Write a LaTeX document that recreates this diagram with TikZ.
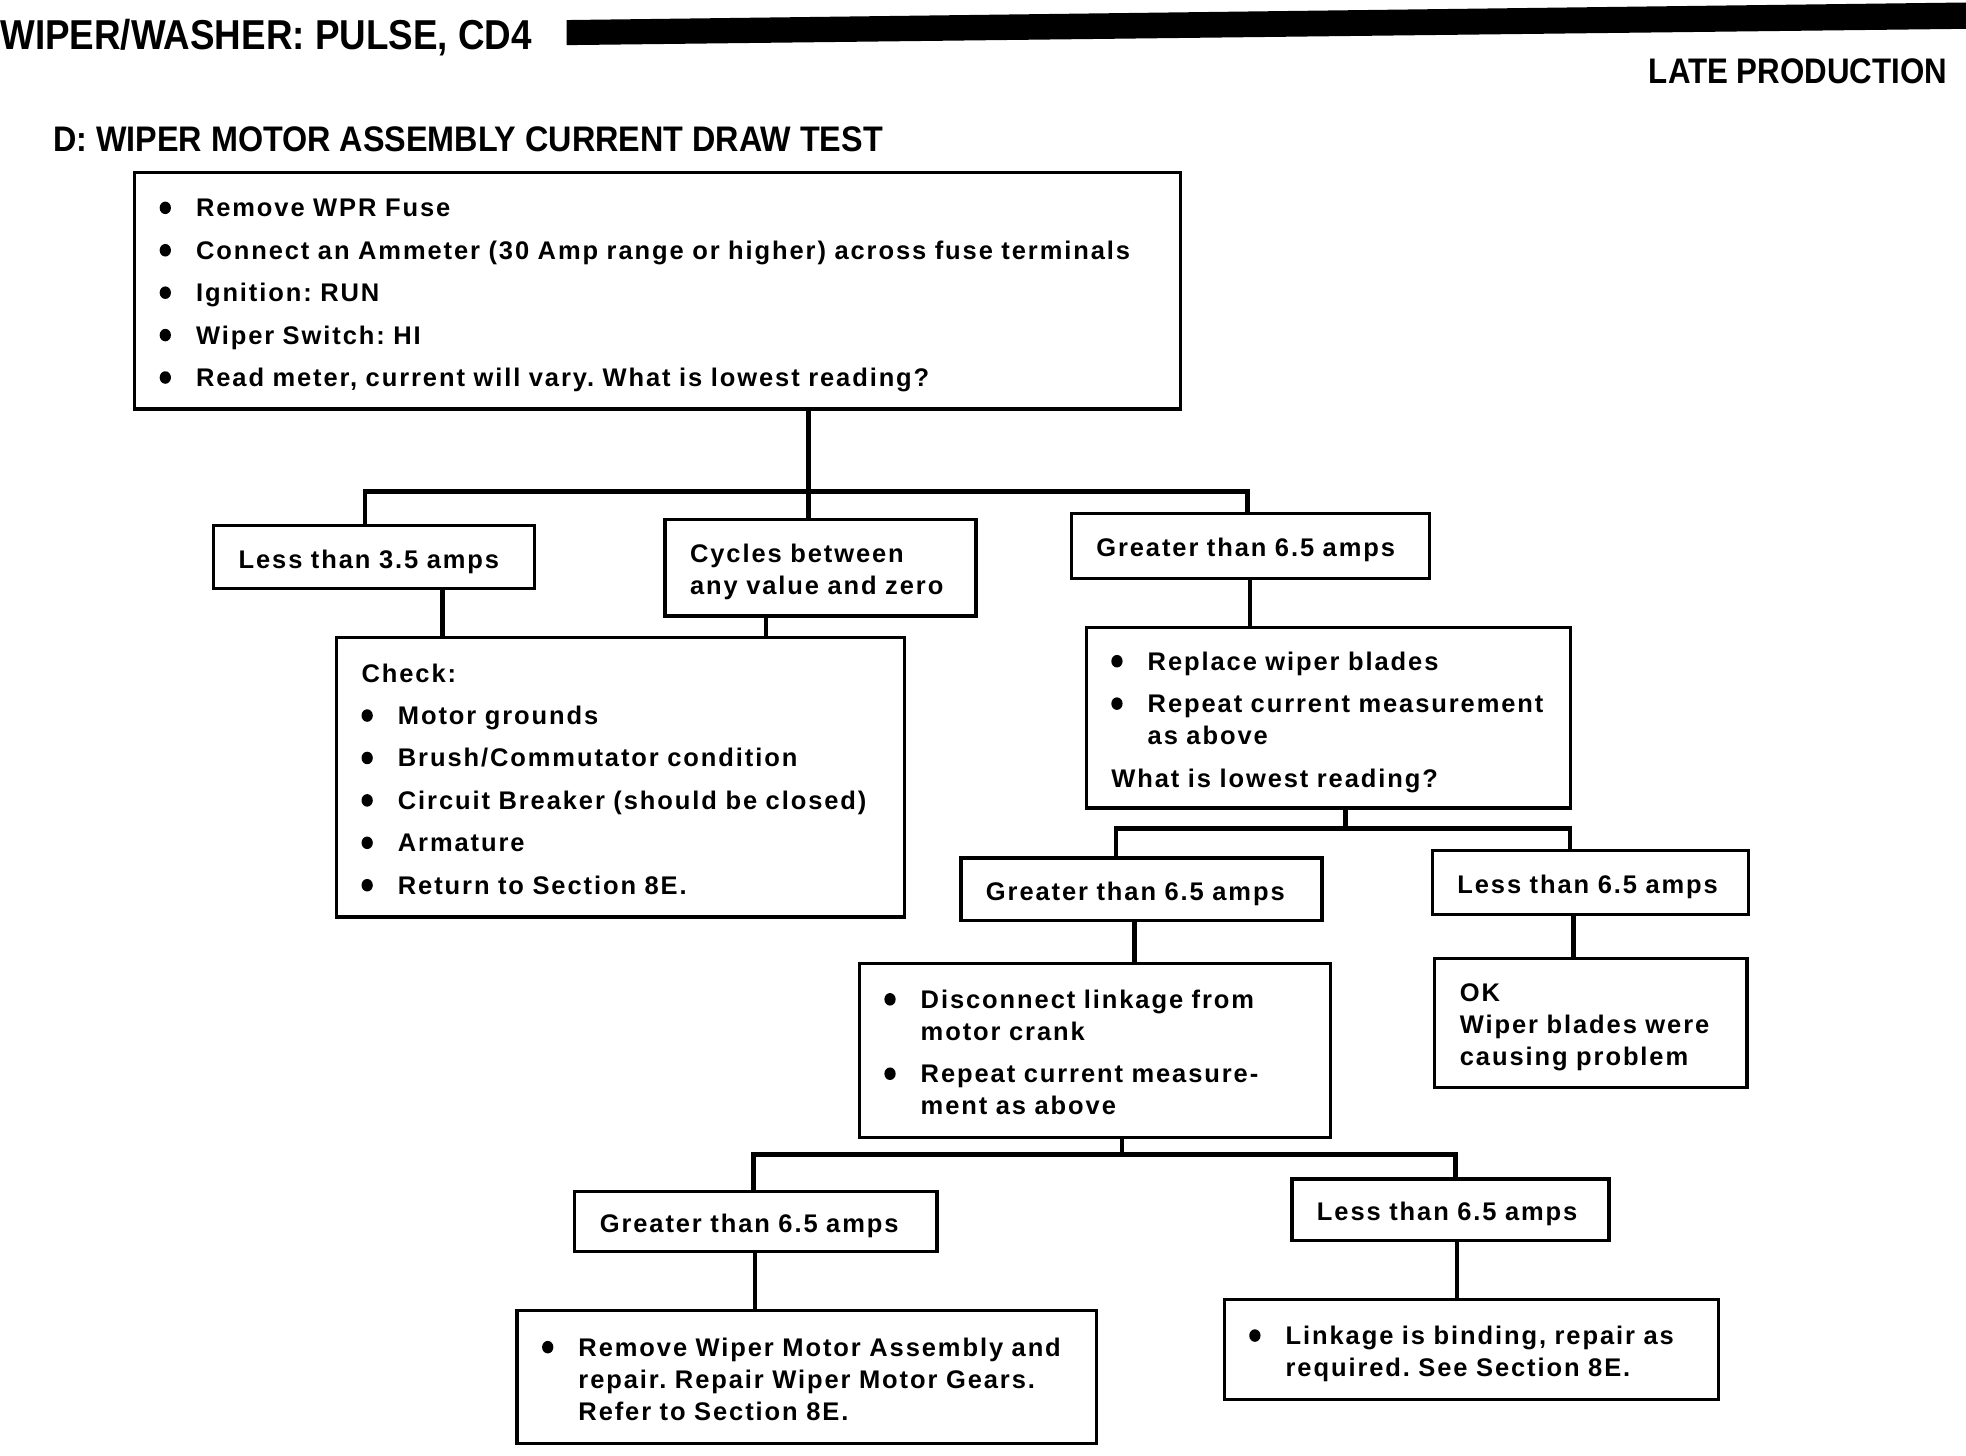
\documentclass[tikz,border=0pt]{standalone}
\usepackage{fontspec}
\setmainfont{Liberation Sans}[LetterSpace=7.5, WordSpace=1.15]
\newfontfamily\headfont{Liberation Sans}[FakeStretch=0.88]
\newfontfamily\titlefont{Liberation Sans}[FakeStretch=0.91]
\frenchspacing

\newcommand{\dotbul}{\makebox[17.4pt][l]{\tikz[baseline=-4.3pt]\fill (2.7pt,0) ellipse (2.7pt and 3pt);}}
\newcommand{\bullets}[1]{\raisebox{-2.2pt}[\height][\depth]{\begin{tabular}{@{}l@{}l@{}}#1\end{tabular}}}
\newcommand{\lines}[1]{\raisebox{-2.2pt}[\height][\depth]{\begin{tabular}{@{}l@{}}#1\end{tabular}}}

\begin{document}
\begin{tikzpicture}
  [x=0.6pt, y=-0.6pt,
   box/.style={draw, line width=1.6pt, anchor=north west, align=left, inner xsep=12pt, inner ysep=0pt,
     font=\fontsize{12.2}{15.3}\selectfont\bfseries},
   link/.style={line width=2.2pt}]
 \useasboundingbox (0,0) rectangle (1568,1161);
 % page heading
 \node (hdr) [anchor=west, inner sep=0pt, font=\headfont\fontsize{20}{24}\selectfont\bfseries] at (0,30) {WIPER/WASHER: PULSE, CD4};
 \fill (452,16) -- (1568,2) -- (1568,23) -- (452,36) -- cycle;
 \node (late) [inner sep=0pt, font=\headfont\fontsize{17}{20}\selectfont\bfseries] at (1434,57) {LATE PRODUCTION};
 \node (title) [anchor=west, inner sep=0pt, font=\titlefont\fontsize{17}{20}\selectfont\bfseries] at (42,111) {D: WIPER MOTOR ASSEMBLY CURRENT DRAW TEST};
 % first test
 \node (top) [box, text width=476.4pt, minimum height=113.4pt] at (106,136) {\bullets{%
  \dotbul & Remove WPR Fuse\\[5pt]
  \dotbul & Connect an Ammeter (30 Amp range or higher) across fuse terminals\\[5pt]
  \dotbul & Ignition: RUN\\[5pt]
  \dotbul & Wiper Switch: HI\\[5pt]
  \dotbul & Read meter, current will vary. What is lowest reading?}};
 \node (l1) [box, text width=129.6pt, minimum height=30pt] at (169,418) {\lines{Less than 3.5 amps}};
 \node (c1) [box, text width=124.8pt, minimum height=46.2pt] at (529,413) {\lines{Cycles between\\any value and zero}};
 \node (g1) [box, text width=147.6pt, minimum height=31.2pt] at (853,408) {\lines{Greater than 6.5 amps}};
 \node (chk) [box, text width=247.8pt, minimum height=133.8pt] at (267,507) {\bullets{%
  \multicolumn{2}{@{}l@{}}{Check:}\\[5pt]
  \dotbul & Motor grounds\\[5pt]
  \dotbul & Brush/Commutator condition\\[5pt]
  \dotbul & Circuit Breaker (should be closed)\\[5pt]
  \dotbul & Armature\\[5pt]
  \dotbul & Return to Section 8E.}};
 \node (rep) [box, text width=207.6pt, minimum height=86.4pt] at (865,499) {\bullets{%
  \dotbul & Replace wiper blades\\[5pt]
  \dotbul & Repeat current measurement\\
          & as above\\[5pt]
  \multicolumn{2}{@{}l@{}}{What is lowest reading?}}};
 % after new blades
 \node (g2) [box, text width=148.8pt, minimum height=30pt] at (765,683) {\lines{Greater than 6.5 amps}};
 \node (l2) [box, text width=127.2pt, minimum height=30.6pt] at (1141,677) {\lines{Less than 6.5 amps}};
 \node (disc) [box, text width=201.6pt, minimum height=83.4pt] at (684,767) {\bullets{%
  \dotbul & Disconnect linkage from\\
          & motor crank\\[5pt]
  \dotbul & Repeat current measure-\\
          & ment as above}};
 \node (ok) [box, text width=125.4pt, minimum height=61.8pt] at (1143,763) {\lines{OK\\Wiper blades were\\causing problem}};
 % linkage off
 \node (g3) [box, text width=149.4pt, minimum height=28.8pt] at (457,949) {\lines{Greater than 6.5 amps}};
 \node (l3) [box, text width=127.8pt, minimum height=29.4pt] at (1029,939) {\lines{Less than 6.5 amps}};
 \node (rmv) [box, text width=253.2pt, minimum height=63.6pt] at (411,1044) {\bullets{%
  \dotbul & Remove Wiper Motor Assembly and\\
          & repair. Repair Wiper Motor Gears.\\
          & Refer to Section 8E.}};
 \node (lnk) [box, text width=212.4pt, minimum height=48pt] at (975,1035) {\bullets{%
  \dotbul & Linkage is binding, repair as\\
          & required. See Section 8E.}};
 % connectors
 \coordinate (bus1) at (645,392);
 \draw[link] (top.south -| bus1) -- (bus1);
 \draw[link] (l1.north -| 291,0) |- (bus1) -| (g1.north -| 995,0);
 \draw[link] (bus1) -- (c1.north -| bus1);
 \draw[link] (l1.south -| 353,0) -- (chk.north -| 353,0);
 \draw[link] (c1.south -| 611,0) -- (chk.north -| 611,0);
 \draw[link] (g1.south -| 997,0) -- (rep.north -| 997,0);
 \coordinate (bus2) at (1073,661);
 \draw[link] (rep.south -| bus2) -- (bus2);
 \draw[link] (g2.north -| 890,0) |- (bus2) -| (l2.north -| 1252,0);
 \draw[link] (g2.south -| 905,0) -- (disc.north -| 905,0);
 \draw[link] (l2.south -| 1255,0) -- (ok.north -| 1255,0);
 \coordinate (bus3) at (895,921);
 \draw[link] (disc.south -| bus3) -- (bus3);
 \draw[link] (g3.north -| 601,0) |- (bus3) -| (l3.north -| 1161,0);
 \draw[link] (g3.south -| 602,0) -- (rmv.north -| 602,0);
 \draw[link] (l3.south -| 1162,0) -- (lnk.north -| 1162,0);
\end{tikzpicture}
\end{document}
